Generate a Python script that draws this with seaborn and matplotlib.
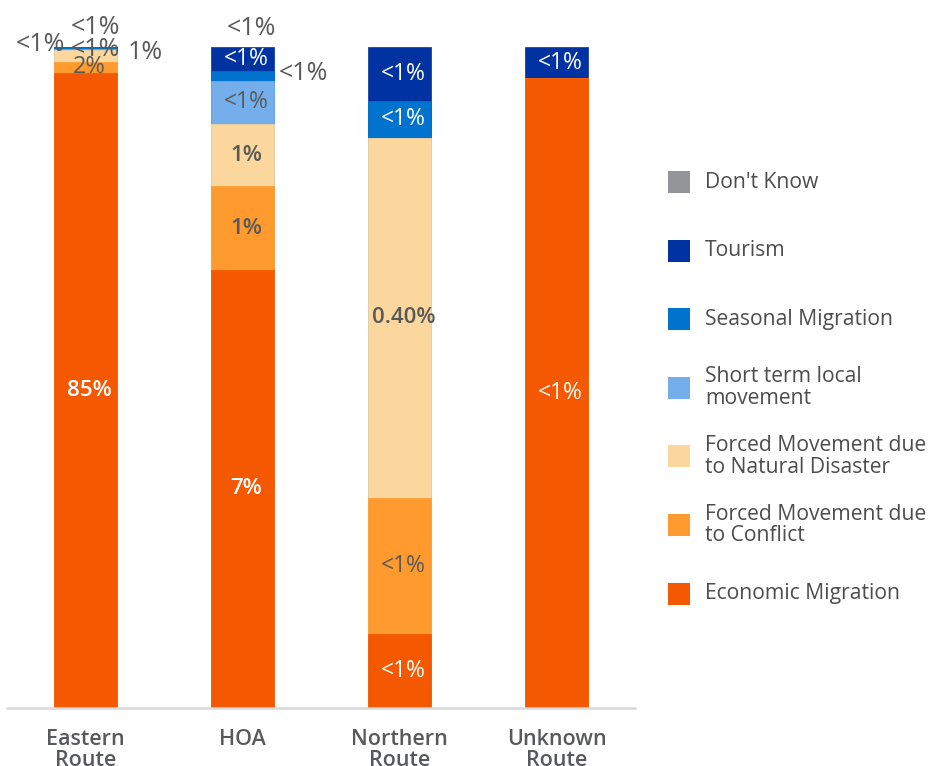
import matplotlib
matplotlib.use("Agg")
import matplotlib.pyplot as plt
import seaborn as sns
import numpy as np
import pandas as pd
from matplotlib.patches import Rectangle

# ---------------- data ----------------
routes = ["Eastern\nRoute", "HOA", "Northern\nRoute", "Unknown\nRoute"]
categories = ["Economic Migration", "Forced Movement due\nto Conflict",
              "Forced Movement due\nto Natural Disaster", "Short term local\nmovement",
              "Seasonal Migration", "Tourism", "Don't Know"]
# share of each bar (bottom -> top)
economic = [0.961, 0.663, 0.112, 0.953]
conflict = [0.0166, 0.126, 0.206, 0.0]
natural = [0.0184, 0.095, 0.545, 0.0]
short_term = [0.0005, 0.065, 0.0, 0.0]
seasonal = [0.003, 0.015, 0.056, 0.0]
tourism = [0.0005, 0.036, 0.081, 0.047]
dont_know = [0.0, 0.0, 0.0, 0.0]

# data labels
economic_lbl = ["85%", "7%", "<1%", "<1%"]
conflict_lbl = ["2%", "1%", "<1%", None]
natural_lbl = ["1%", "1%", "0.40%", None]
short_term_lbl = ["<1%", "<1%", None, None]
seasonal_lbl = ["<1%", "<1%", "<1%", None]
tourism_lbl = [None, "<1%", "<1%", "<1%"]
dont_know_lbl = ["<1%", "<1%", None, None]

colors = ["#F45800", "#FF9A2E", "#FBD79D", "#74AFEB", "#0073CF", "#0033A1", "#939598"]
label_colors = ["white", "#595959", "#595959", "#595959", "white", "white", "#595959"]

# ---------------- style ----------------
sns.set_theme(style="white")
plt.rcParams['font.family'] = ['Open Sans', 'DejaVu Sans']

fig = plt.figure(figsize=(9.33, 7.66), dpi=100)
ax = fig.add_axes([7 / 933, 58 / 766, 628 / 933, 661 / 766])

values = np.array([economic, conflict, natural, short_term, seasonal, tourism, dont_know])
labels = [economic_lbl, conflict_lbl, natural_lbl, short_term_lbl, seasonal_lbl, tourism_lbl, dont_know_lbl]
cum = values.cumsum(axis=0)

for i in reversed(range(len(categories))):
    if values[i].sum() == 0:
        continue
    df = pd.DataFrame({"route": routes, "share": cum[i]})
    sns.barplot(data=df, x="route", y="share", order=routes, color=colors[i],
                saturation=1, width=0.4, edgecolor=colors[i], linewidth=0.5,
                errorbar=None, ax=ax)

# label offsets (pixels) for labels placed outside / shifted
offsets = {
    (2, 0): (60, 3), (3, 0): (10, 0), (4, 0): (-45, 4), (6, 0): (10, 20),
    (6, 1): (9, 18), (4, 1): (61, 2),
}
outside = {(2, 0), (3, 0), (4, 0), (6, 0), (6, 1), (4, 1)}

for i in range(len(categories)):
    for j in range(len(routes)):
        txt = labels[i][j]
        if txt is None:
            continue
        bottom = cum[i][j] - values[i][j]
        center = bottom + values[i][j] / 2
        dx, dy = offsets.get((i, j), (4, 0))
        if (i, j) in outside:
            col, fs, wt = "#595959", 18, "normal"
        else:
            col = label_colors[i]
            if txt.startswith("<"):
                fs, wt = 16.5, "normal"
            else:
                fs, wt = 16, "semibold"
            if (i, j) == (1, 0):
                fs, wt = 17, "normal"
        ax.annotate(txt, xy=(j, center), xytext=(dx, dy), textcoords="offset pixels",
                    ha="center", va="center", fontsize=fs, color=col, fontweight=wt,
                    annotation_clip=False)

ax.set_xlim(-0.5, 3.5)
ax.set_ylim(0, 1)
ax.set_xlabel("")
ax.set_ylabel("")
ax.set_yticks([])
for s in ["left", "right", "top"]:
    ax.spines[s].set_visible(False)
ax.spines["bottom"].set_color("#d9d9d9")
ax.spines["bottom"].set_linewidth(1.8)
ax.tick_params(axis="x", length=0, pad=15)
for t in ax.get_xticklabels():
    t.set_fontsize(15.5)
    t.set_color("#58595b")
    t.set_fontweight("semibold")
    t.set_linespacing(1.0)

# ---------------- legend ----------------
leg_order = list(reversed(range(len(categories))))
y0 = 182
step = 68.6
for k, i in enumerate(leg_order):
    yc = y0 + k * step
    fig.patches.append(Rectangle((668 / 933, 1 - (yc + 11) / 766), 22 / 933, 22 / 766,
                                 transform=fig.transFigure, facecolor=colors[i],
                                 edgecolor="none"))
    fig.text(705 / 933, 1 - yc / 766, categories[i], ha="left", va="center",
             fontsize=15.2, color="#4d4d4d", linespacing=1.05)

fig.savefig("out.png", dpi=100)
